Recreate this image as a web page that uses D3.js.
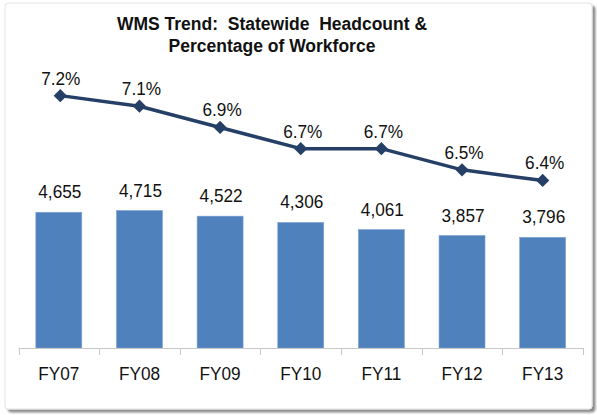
<!DOCTYPE html>
<html>
<head>
<meta charset="utf-8">
<script src="https://cdn.jsdelivr.net/npm/d3@7"></script>
<style>
  html, body { margin: 0; padding: 0; background: #ffffff; }
  svg { display: block; }
  text { font-family: "Liberation Sans", Arial, sans-serif; }
</style>
</head>
<body>
<div id="chart"></div>
<script>
const categories = ["FY07", "FY08", "FY09", "FY10", "FY11", "FY12", "FY13"];
const headcount = [4655, 4715, 4522, 4306, 4061, 3857, 3796];
const percentOfWorkforce = [7.2, 7.1, 6.9, 6.7, 6.7, 6.5, 6.4];
const titleLines = ["WMS Trend:  Statewide  Headcount &", "Percentage of Workforce"];

const W = 597, H = 415;
const svg = d3.select("#chart").append("svg")
  .attr("width", W).attr("height", H);

const defs = svg.append("defs");
const f = defs.append("filter").attr("id", "shadow")
  .attr("x", "-5%").attr("y", "-5%").attr("width", "110%").attr("height", "110%");
f.append("feDropShadow").attr("dx", 3).attr("dy", 3)
  .attr("stdDeviation", 1.2).attr("flood-color", "#000").attr("flood-opacity", 0.45);

// frame
svg.append("rect")
  .attr("x", 5).attr("y", 3).attr("width", 587).attr("height", 406)
  .attr("rx", 3)
  .attr("fill", "#ffffff").attr("stroke", "#e3e3e3").attr("stroke-width", 1)
  .attr("filter", "url(#shadow)");

const plotLeft = 18.5, plotRight = 583, plotTop = 56.4, plotBottom = 348;

const x = d3.scaleBand().domain(categories)
  .range([plotLeft, plotRight])
  .paddingInner(0.43).paddingOuter(0.215);
const yBar = d3.scaleLinear().domain([0, 10000]).range([plotBottom, plotTop]);
const yPct = d3.scaleLinear().domain([4.82, 7.57]).range([plotBottom, plotTop]);

const cx = d => x(d) + x.bandwidth() / 2;
const FS = 18.5, SX = 0.93;

// bars
svg.append("g").selectAll("rect")
  .data(categories)
  .join("rect")
  .attr("x", d => x(d))
  .attr("y", (d, i) => yBar(headcount[i]))
  .attr("width", x.bandwidth())
  .attr("height", (d, i) => yBar(0) - yBar(headcount[i]))
  .attr("fill", "#4F81BD")
  .attr("stroke", "#7ea3d2").attr("stroke-width", 0.6);

// bar labels
const fmt = d3.format(",");
svg.append("g").selectAll("text")
  .data(categories)
  .join("text")
  .attr("transform", (d, i) => `translate(${cx(d) + 1},${yBar(headcount[i]) - 14}) scale(${SX},1)`)
  .attr("text-anchor", "middle")
  .attr("font-size", FS)
  .attr("fill", "#111")
  .text((d, i) => fmt(headcount[i]));

// category axis
const axisG = svg.append("g");
axisG.append("line")
  .attr("x1", plotLeft).attr("x2", plotRight)
  .attr("y1", plotBottom + 0.5).attr("y2", plotBottom + 0.5)
  .attr("stroke", "#c8c8c8").attr("stroke-width", 1);
const boundaries = d3.range(categories.length + 1).map(i => plotLeft + i * x.step());
axisG.selectAll("line.tick")
  .data(boundaries)
  .join("line")
  .attr("class", "tick")
  .attr("x1", d => Math.round(d) + 0.5).attr("x2", d => Math.round(d) + 0.5)
  .attr("y1", plotBottom).attr("y2", plotBottom + 7)
  .attr("stroke", "#c8c8c8").attr("stroke-width", 1);
axisG.selectAll("text")
  .data(categories)
  .join("text")
  .attr("transform", d => `translate(${cx(d)},379.5) scale(${SX},1)`)
  .attr("text-anchor", "middle")
  .attr("font-size", FS)
  .attr("fill", "#111")
  .text(d => d);

// line
const lineColor = "#253f66";
const line = d3.line()
  .x((d, i) => cx(categories[i]) + (i === 0 ? 1.5 : 0))
  .y(d => yPct(d));
svg.append("path")
  .datum(percentOfWorkforce)
  .attr("d", line)
  .attr("fill", "none")
  .attr("stroke", lineColor)
  .attr("stroke-width", 3.5)
  .attr("stroke-linejoin", "round");

svg.append("g").selectAll("path")
  .data(percentOfWorkforce)
  .join("path")
  .attr("d", d3.symbol().type(d3.symbolSquare).size(88)())
  .attr("transform", (d, i) => `translate(${cx(categories[i]) + (i === 0 ? 1.5 : 0)},${yPct(d)}) rotate(45)`)
  .attr("fill", lineColor);

svg.append("g").selectAll("text")
  .data(percentOfWorkforce)
  .join("text")
  .attr("transform", (d, i) => `translate(${cx(categories[i]) + 2},${yPct(d) - 11}) scale(${SX},1)`)
  .attr("text-anchor", "middle")
  .attr("font-size", FS)
  .attr("fill", "#111")
  .text(d => d3.format(".1f")(d) + "%");

// title
svg.append("g").selectAll("text")
  .data(titleLines)
  .join("text")
  .attr("x", 272)
  .attr("y", (d, i) => 29.5 + i * 22)
  .attr("text-anchor", "middle")
  .attr("font-size", 17.5)
  .attr("font-weight", "bold")
  .attr("fill", "#111")
  .style("white-space", "pre")
  .attr("xml:space", "preserve")
  .text(d => d);
</script>
</body>
</html>
